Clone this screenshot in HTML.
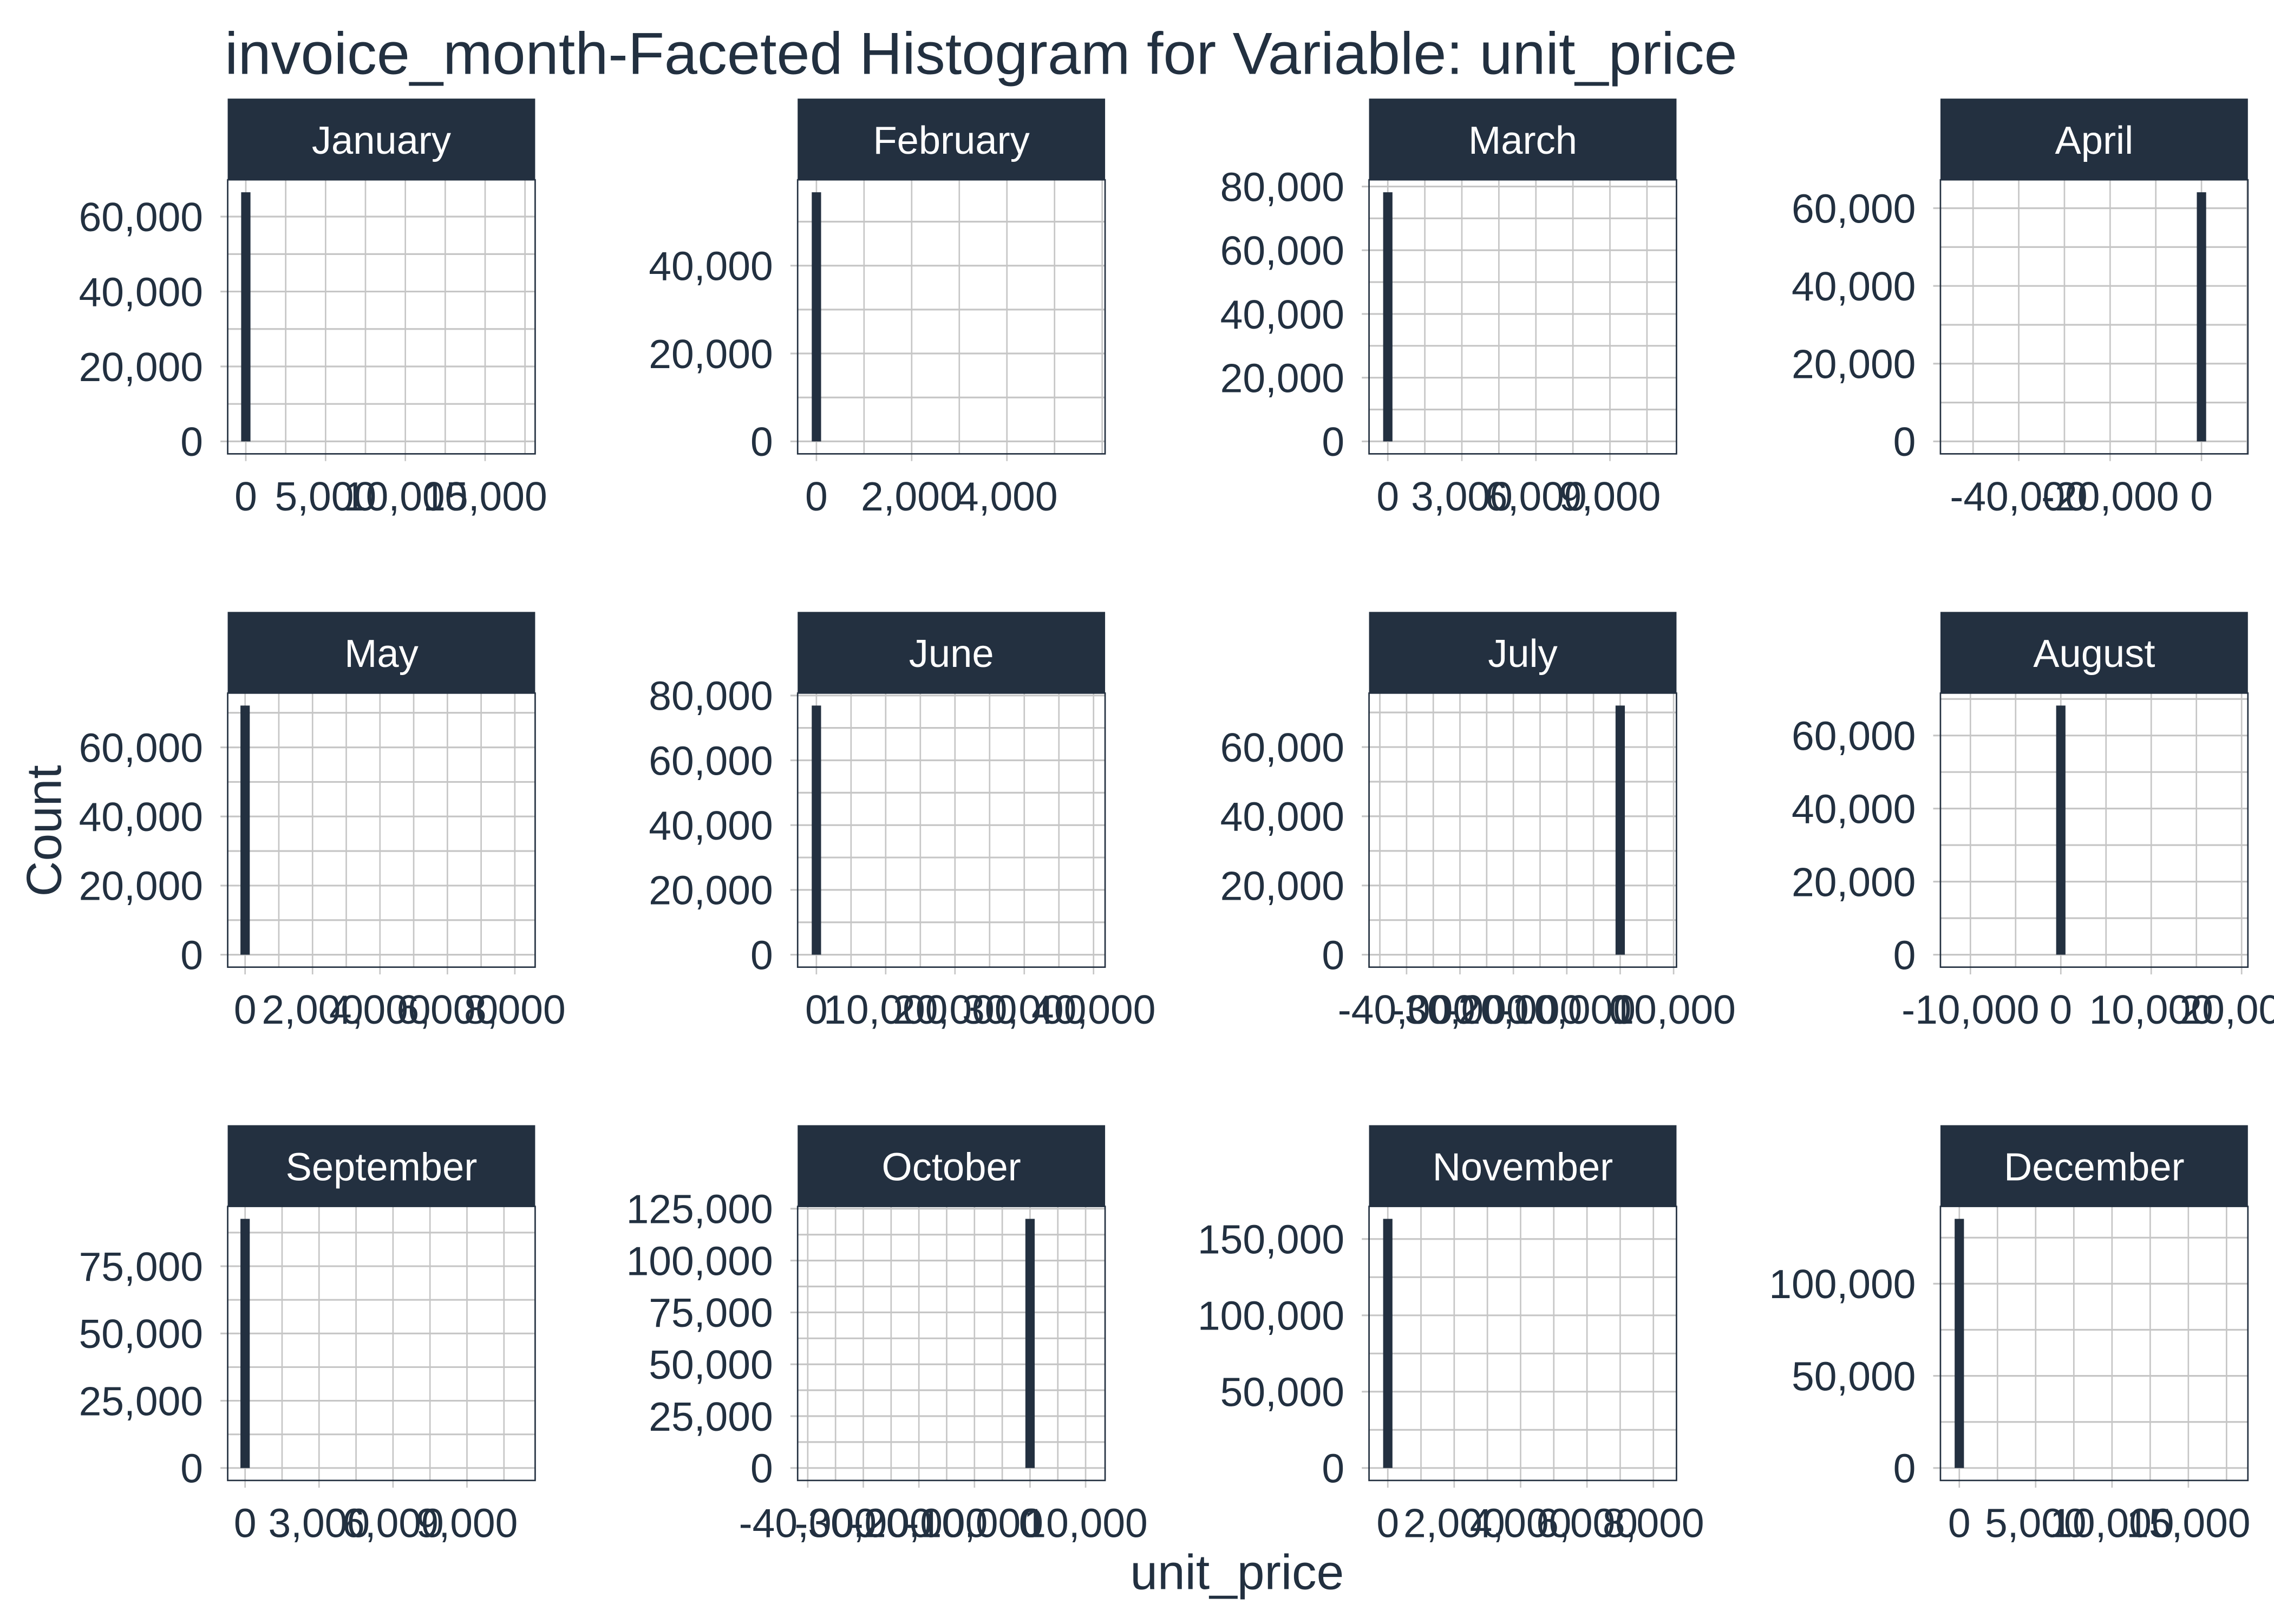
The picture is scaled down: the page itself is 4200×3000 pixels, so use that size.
<!DOCTYPE html>
<html><head><meta charset="utf-8">
<style>
html,body{margin:0;padding:0;background:#fff;}
svg{display:block;}
text{font-family:"Liberation Sans",Arial,sans-serif;fill:#223040;}
</style></head>
<body>
<svg id="chart" width="4200" height="3000" viewBox="0 0 1568 1120" xmlns="http://www.w3.org/2000/svg">
<rect x="0" y="0" width="1568" height="1120" fill="#ffffff"/>
<text x="155" y="51" font-size="41">invoice_month-Faceted Histogram for Variable: unit_price</text>
<text x="0" y="0" font-size="34" text-anchor="middle" transform="translate(42,573) rotate(-90)">Count</text>
<text x="853" y="1096" font-size="34" text-anchor="middle">unit_price</text>
<g id="panels"></g>
</svg>
<script>
const months = ["January","February","March","April","May","June","July","August","September","October","November","December"];
const barValues = [0,0,0,0,0,0,0,0,0,0,0,0];
const barCounts = [66500,56700,78200,64100,72100,76900,72000,68200,92600,120100,163200,135200];
const dataMin = [-260,-101,-194,-54084,-102,-691,-44410,-11770,-139,-39303,-144,-320];
const dataMax = [17260,5768,11130,7100,8188,39650,7924,19149,11198,10991,8275,17983];
const xTicks = [
 [0,5000,10000,15000],[0,2000,4000],[0,3000,6000,9000],[-40000,-20000,0],
 [0,2000,4000,6000,8000],[0,10000,20000,30000,40000],[-40000,-30000,-20000,-10000,0,10000],[-10000,0,10000,20000],
 [0,3000,6000,9000],[-40000,-30000,-20000,-10000,0,10000],[0,2000,4000,6000,8000],[0,5000,10000,15000]
];
const yTicks = [
 [0,20000,40000,60000],[0,20000,40000],[0,20000,40000,60000,80000],[0,20000,40000,60000],
 [0,20000,40000,60000],[0,20000,40000,60000,80000],[0,20000,40000,60000],[0,20000,40000,60000],
 [0,25000,50000,75000],[0,25000,50000,75000,100000,125000],[0,50000,100000,150000],[0,50000,100000]
];
const binCount = 30;

const NS = "http://www.w3.org/2000/svg";
const root = document.getElementById("panels");
const colX = [157,550,944,1338], panelW = 212;
const rowY = [68,422,776], stripH = 56, plotH = 189;
const dark = "#233040", grid = "#c6c6c6";
function mk(tag, attrs, parent){const e=document.createElementNS(NS,tag);for(const k in attrs)e.setAttribute(k,attrs[k]);parent.appendChild(e);return e;}
function fmt(v){return v.toLocaleString("en-US");}

months.forEach((m,i)=>{
  const L = colX[i%4], T = rowY[Math.floor(i/4)], PT = T+stripH, PB = PT+plotH, R = L+panelW;
  const span = dataMax[i]-dataMin[i];
  const x0 = dataMin[i]-0.05*span, x1 = dataMax[i]+0.05*span;
  const yMaxC = barCounts[i];
  const y0 = -0.05*yMaxC, y1 = 1.05*yMaxC;
  const sx = v => L + (v-x0)/(x1-x0)*panelW;
  const sy = v => PB - (v-y0)/(y1-y0)*plotH;
  const g = mk("g",{},root);
  
  
  const xt = xTicks[i], yt = yTicks[i];
  const xs = xt[1]-xt[0], ys = yt[1]-yt[0];
  for(let v=xt[0]-xs/2; v<=x1; v+=xs/2){ if(v<x0) continue; const p=sx(v);
    const ln=mk("line",{x1:p,x2:p,y1:PT,y2:PB,stroke:grid,"stroke-width":1},g);
    
    
  }
  for(let v=yt[0]-ys/2; v<=y1; v+=ys/2){ if(v<y0) continue; const p=sy(v);
    const ln=mk("line",{x1:L,x2:R,y1:p,y2:p,stroke:grid,"stroke-width":1.2},g);
    
    
  }
  xt.forEach(v=>{const p=sx(v);
    mk("line",{x1:p,x2:p,y1:PB,y2:PB+5,stroke:grid,"stroke-width":1},g);
    const t=mk("text",{x:p,y:PB+39,"font-size":28,"text-anchor":"middle"},g); t.textContent=fmt(v);
    
    
  });
  yt.forEach(v=>{const p=sy(v);
    mk("line",{x1:L-5,x2:L,y1:p,y2:p,stroke:grid,"stroke-width":1.2},g);
    const t=mk("text",{x:L-17,y:p+10,"font-size":28,"text-anchor":"end"},g); t.textContent=fmt(v);
    
    
  });
  const bw = span/binCount;
  const bx = sx(barValues[i]-bw/2), bx2 = sx(barValues[i]+bw/2);
  const bar = mk("rect",{x:bx,y:sy(barCounts[i]),width:bx2-bx,height:sy(0)-sy(barCounts[i]),fill:dark},g);
  
  
  const b = mk("rect",{x:L,y:PT,width:panelW,height:plotH,fill:"none",stroke:dark,"stroke-width":1},g);
  
  
  const s = mk("rect",{x:L,y:T,width:panelW,height:stripH,fill:dark},g);
  
  
  const st = mk("text",{x:L+panelW/2,y:T+38,"font-size":27,"text-anchor":"middle",style:"fill:#ffffff"},g);
  st.textContent = m;
  
  
});
</script>
</body></html>
